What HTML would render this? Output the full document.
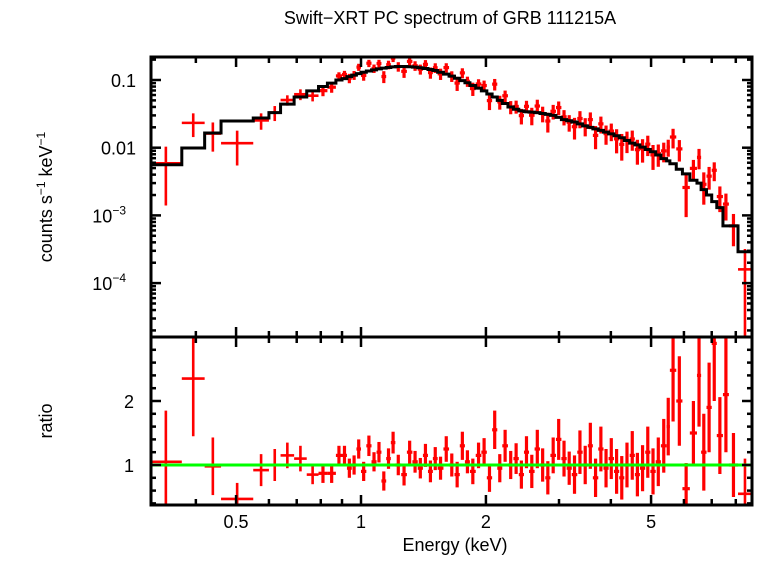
<!DOCTYPE html>
<html><head><meta charset="utf-8"><style>
body{margin:0;background:#fff;}
svg text{font-family:"Liberation Sans",sans-serif;fill:#000;}
</style></head><body>
<svg id="c" width="758" height="556" viewBox="0 0 758 556" xmlns="http://www.w3.org/2000/svg">
<defs>
<clipPath id="cpTop"><rect x="151" y="57" width="601" height="280"/></clipPath>
<clipPath id="cpBot"><rect x="151" y="337" width="601" height="168"/></clipPath>
</defs>
<text x="450" y="24" font-size="18" text-anchor="middle">Swift−XRT PC spectrum of GRB 111215A</text>
<text transform="translate(52,197) rotate(-90)" font-size="18" text-anchor="middle">counts s<tspan font-size="12" dy="-7">−1</tspan><tspan dy="7"> keV</tspan><tspan font-size="12" dy="-7">−1</tspan></text>
<text transform="translate(52,421) rotate(-90)" font-size="18" text-anchor="middle">ratio</text>
<text x="455" y="551" font-size="18" text-anchor="middle">Energy (keV)</text>
<g id="gTop" clip-path="url(#cpTop)"></g>
<g id="gBot" clip-path="url(#cpBot)"></g>
<g id="gAx"></g>
</svg>
<script>
// bin edges (keV)
const edges = [0.31,0.37,0.42,0.46,0.55,0.60,0.64,0.69,0.74,0.79,0.83,0.87,0.90,
 0.925,0.95,0.975,1.0,
 1.03,1.06,1.09,1.12,1.15,1.18,1.21,
 1.25,1.29,1.33,1.37,1.41,1.45,1.49,1.53,
 1.58,1.63,1.68,1.73,1.78,1.83,1.89,1.95,2.01,
 2.07,2.13,2.19,2.26,2.33,2.40,2.47,2.54,
 2.62,2.70,2.78,2.86,2.95,3.04,3.13,3.22,
 3.32,3.42,3.52,3.62,3.73,3.84,3.95,4.07,
 4.19,4.31,4.44,4.57,4.70,4.84,4.98,5.13,5.28,5.45,
 5.55,5.75,5.95,6.2,6.45,6.6,6.8,7.0,7.2,7.45,7.7,8.1,8.75];
// model counts s^-1 keV^-1 per bin
const model = [.0056,.0099,.0165,.0248,.0275,.033,.044,.056,.069,.080,.090,.100,
 .105,.112,.118,.124,
 .13,.136,.141,.146,.150,.153,.156,
 .158,.158,.157,.155,.152,.148,.143,.138,
 .13,.122,.114,.106,.098,.091,.083,.076,.069,
 .062,.056,.050,.045,.040,.037,.035,.034,
 .0335,.033,.032,.031,.030,.028,.026,.025,
 .024,.0225,.021,.020,.019,.018,.017,.016,
 .015,.014,.0128,.0117,.011,.0102,.0094,.0087,.0078,.0069,
 .0064,.0058,.0048,.0041,.0033,.0030,.0024,.0020,.0016,.0013,.0007,.0007,.00029];
// data/model ratio per bin
const ratio = [1.05,2.35,0.98,0.47,0.92,1.0,1.15,1.1,0.85,0.87,0.87,1.15,
 1.15,0.95,1.0,1.25,
 0.9,1.3,1.05,1.2,0.75,1.1,1.35,
 1.0,0.85,1.2,1.05,0.95,1.15,0.9,1.1,
 0.95,1.25,1.0,0.85,1.3,1.05,0.9,1.15,1.2,
 0.8,1.55,0.95,1.3,1.0,1.1,0.85,1.2,
 0.9,1.25,1.0,0.8,1.15,1.4,1.1,0.95,
 0.85,1.2,1.0,1.3,0.8,1.25,0.95,1.1,
 0.9,0.8,1.0,1.15,0.85,0.95,1.2,0.9,1.05,1.3,
 1.6,2.48,2.0,0.63,1.5,2.4,1.2,1.9,2.9,1.46,2.1,1.0,0.55];
// ratio errors
const ratioErr = [.8,.9,.45,.25,.25,.25,.2,.2,.15,.15,.15,.15,
 .15,.15,.15,.15,
 .15,.16,.15,.16,.15,.16,.17,
 .16,.17,.18,.17,.16,.18,.17,.18,
 .18,.2,.18,.2,.22,.18,.2,.2,.22,
 .22,.3,.22,.25,.22,.24,.22,.25,
 .26,.3,.26,.26,.28,.32,.28,.26,
 .3,.34,.3,.36,.3,.35,.3,.32,
 .35,.34,.35,.38,.34,.36,.4,.36,.38,.42,
 .45,.8,.7,.4,.5,.8,.6,.7,.9,.6,.9,.5,.55];
const xTickMajor = [0.5,1,2,5];
const xTickLabels = ["0.5","1","2","5"];
const xTickMinor = [0.4,0.6,0.7,0.8,0.9,3,4,6,7,8];

const NS="http://www.w3.org/2000/svg";
const X0=151,X1=752,YT=57,YM=337,YB=505;
const xs=e=>361+415*Math.log10(e);
const ys=v=>80-67.7*(Math.log10(v)+1);
const yr=r=>465-64*(r-1);
function mk(tag,attrs,parent){const el=document.createElementNS(NS,tag);for(const k in attrs)el.setAttribute(k,attrs[k]);parent.appendChild(el);return el;}
const gTop=document.getElementById('gTop'),gBot=document.getElementById('gBot'),gAx=document.getElementById('gAx');

for(let i=0;i<ratio.length;i++){
  const lo=edges[i],hi=edges[i+1],c=Math.sqrt(lo*hi);
  const f=model[i]*ratio[i],fe=model[i]*ratioErr[i];
  const w=(hi/lo<1.06)?3.2:2.6;
  const g1=mk('g',{stroke:'#f00','stroke-width':w,fill:'none'},gTop);
  
  
  mk('line',{x1:xs(lo),x2:xs(hi),y1:ys(f),y2:ys(f)},g1);
  const fl=Math.max(f-fe,1e-6);
  mk('line',{x1:xs(c),x2:xs(c),y1:ys(f+fe),y2:ys(fl)},g1);
  const g2=mk('g',{stroke:'#f00','stroke-width':w,fill:'none'},gBot);
  
  
  mk('line',{x1:xs(lo),x2:xs(hi),y1:yr(ratio[i]),y2:yr(ratio[i])},g2);
  mk('line',{x1:xs(c),x2:xs(c),y1:yr(ratio[i]+ratioErr[i]),y2:yr(ratio[i]-ratioErr[i])},g2);
}
let d='';
for(let i=0;i<model.length;i++){
  const y=ys(model[i]);
  d+=(i===0?'M':'L')+xs(edges[i])+','+y+'L'+xs(edges[i+1])+','+y;
}
const mp=mk('path',{d:d,stroke:'#000','stroke-width':3,fill:'none'},gTop);


const gl=mk('line',{x1:X0,x2:X1,y1:yr(1),y2:yr(1),stroke:'#0f0','stroke-width':3},gBot);



[[YT,YM],[YM,YB]].forEach(([a,b])=>{
  const r=mk('rect',{x:X0,y:a,width:X1-X0,height:b-a,fill:'none',stroke:'#000','stroke-width':3},gAx);
  
  
});
function tick(x1,y1,x2,y2){mk('line',{x1,y1,x2,y2,stroke:'#000','stroke-width':2.5},gAx);}
xTickMajor.forEach((e,i)=>{const x=xs(e);
  [[YT,1],[YM,-1],[YM,1],[YB,-1]].forEach(([y,s])=>tick(x,y,x,y+s*10));
  const t=mk('text',{x:x,y:528,'font-size':18,'text-anchor':'middle'},gAx);t.textContent=xTickLabels[i];
  
  
});
xTickMinor.forEach(e=>{const x=xs(e);
  [[YT,1],[YM,-1],[YM,1],[YB,-1]].forEach(([y,s])=>tick(x,y,x,y+s*6));
});
for(let p=-5;p<=-1;p++){for(let m=1;m<=9;m++){const v=m*Math.pow(10,p);const y=ys(v);
  if(y<YT-0.5||y>YM+0.5)continue;const L=m===1?10:5;tick(X0,y,X0+L,y);tick(X1,y,X1-L,y);}}
const yLab=[[0.1,'0.1',null],[0.01,'0.01',null],[1e-3,'10','−3'],[1e-4,'10','−4']];
yLab.forEach(([v,t,s])=>{const el=mk('text',{x:s?126:136,y:ys(v)+7,'font-size':18,'text-anchor':'end'},gAx);
  el.textContent=t;
  
  
  if(s){const ts=mk('tspan',{'font-size':12,dy:-8},el);ts.textContent=s;}
});
for(let k=4;k<=30;k+=2){const r=k/10,y=yr(r);if(y<YM||y>YB)continue;const L=(k%10===0)?10:5;tick(X0,y,X0+L,y);tick(X1,y,X1-L,y);}
[[1,'1'],[2,'2']].forEach(([r,t])=>{const el=mk('text',{x:134,y:yr(r)+7,'font-size':18,'text-anchor':'end'},gAx);el.textContent=t;
  
  });
</script>
</body></html>
